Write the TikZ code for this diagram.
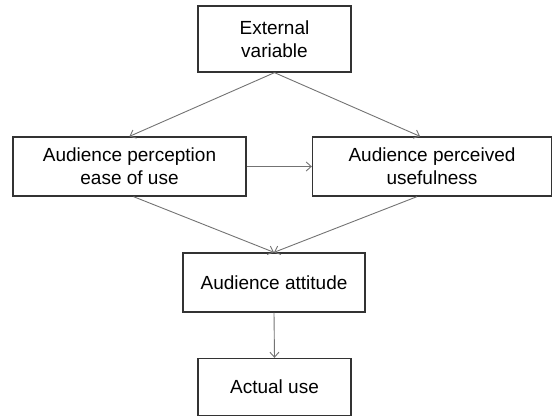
\documentclass[tikz,border=0pt]{standalone}
\usepackage{fontspec}
\setmainfont{Liberation Sans}
\usetikzlibrary{arrows.meta}
\begin{document}
\begin{tikzpicture}[x=1pt,y=-1pt,
  box/.style={draw=black!80, line width=1.3pt, minimum width=#1, inner sep=0pt, align=center, font=\fontsize{19}{23}\selectfont},
  conn/.style={draw=black!55, line width=0.9pt, -{Straight Barb[length=5pt,width=9pt]}}]
\useasboundingbox (0,0) rectangle (554,417);
\node[box=153pt, minimum height=66pt] (ext) at (274.5,39) {External\\variable};
\node[box=233pt, minimum height=59pt] (peou) at (129.5,166.5) {Audience perception\\ease of use};
\node[box=239pt, minimum height=59pt] (pu) at (432,166.5) {Audience perceived\\usefulness};
\node[box=182pt, minimum height=59pt] (att) at (274,282.5) {Audience attitude};
\node[box=153pt, minimum height=57pt] (use) at (274.5,387) {Actual use};
\draw[conn] (ext.south) -- (peou.north);
\draw[conn] (ext.south) -- ([xshift=-12pt]pu.north);
\draw[conn] (peou.east) -- (pu.west);
\draw[conn] ([xshift=4pt]peou.south) -- (att.north);
\draw[conn] ([xshift=-15pt]pu.south) -- (att.north);
\draw[conn] (att.south) -- (use.north);
\end{tikzpicture}
\end{document}
